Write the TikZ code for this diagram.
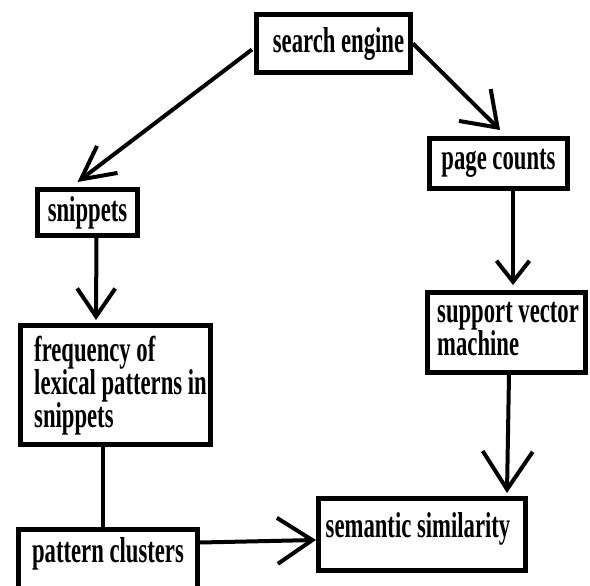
\documentclass[tikz,border=0pt]{standalone}
\usepackage{fontspec}
\newfontfamily\lbl{Liberation Serif}[FakeStretch=0.63]
\usetikzlibrary{arrows.meta,calc}
\begin{document}
\begin{tikzpicture}[x=1pt,y=-1pt,
  box/.style={draw=black,line width=5pt,inner sep=0pt,rectangle},
  txt/.style={font=\lbl\bfseries\fontsize{36}{33}\selectfont},
  conn/.style={draw=black,line width=4pt},
  tipv/.style 2 args={-{Straight Barb[length=#1pt,width=#2pt]}}
]
\useasboundingbox (0,0) rectangle (590,586);
\fill[white] (0,0) rectangle (590,586);
\clip (0,0) rectangle (590,586);

% boxes
\node[box,txt,minimum width=154,minimum height=58] (se) at (333.5,43.5) {\hspace*{10pt}search engine};
\node[box,txt,minimum width=138,minimum height=50] (pc) at (498.5,163.5) {page counts};
\node[box,txt,minimum width=100,minimum height=46] (snip) at (87.5,212.5) {snippets};
\node[box,minimum width=158,minimum height=80] (svm) at (506.5,332.5) {};
\node[txt,align=left,inner sep=0pt,anchor=base west] (svmt) at (437,355) {support vector\\machine};
\node[box,minimum width=190,minimum height=119] (freq) at (115.5,385) {};
\node[txt,align=left,inner sep=0pt,anchor=base west] (freqt) at (34,427) {frequency of\\lexical patterns in\\snippets};
\node[box,minimum width=207,minimum height=72] (sem) at (422,534.5) {};
\node[txt,anchor=base] (semt) at (418,537) {semantic similarity};
\node[box,txt,minimum width=179,text height=33.5pt,text depth=40pt,anchor=north] (pat) at (108,526.5) {pattern clusters};

% connectors
\draw[conn,tipv={33}{34}] ($(se.west)+(-2,6)$) -- ($(snip.north)+(-10,-5)$);
\draw[conn,tipv={32}{45}] ($(se.east)+(0,0)$) -- ($(pc.north)+(1.5,-6)$);
\draw[conn,tipv={28}{38}] ($(snip.south)+(9,-4)$) -- ($(freq.north)+(-19.5,-3)$);
\draw[conn,tipv={21}{33}] ($(pc.south)+(14.5,0)$) -- ($(svm.north)+(6.5,-5)$);
\draw[conn,tipv={38}{50}] ($(svm.south)+(2.5,0)$) -- ($(sem.north east)+(-21,-3)$);
\draw[conn] ($(freq.south)+(-12.5,0)$) -- ($(pat.north)+(-5,0)$);
\draw[conn,tipv={35}{46}] ($(pat.north east)+(0,16)$) -- ($(sem.west)+(0,5.5)$);
\end{tikzpicture}
\end{document}
